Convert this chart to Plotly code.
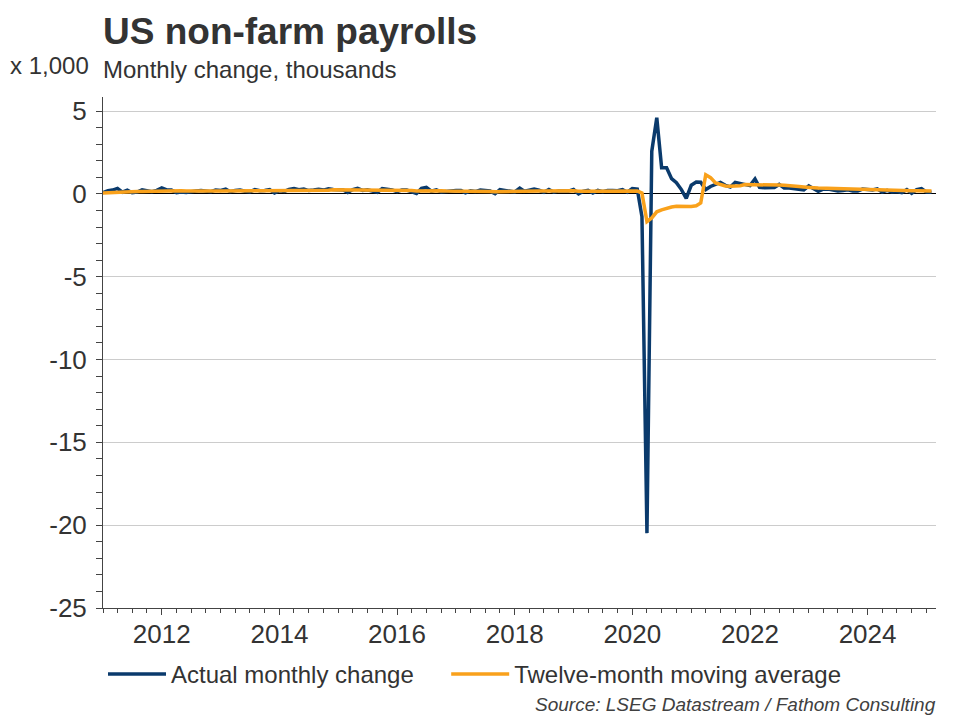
import plotly.graph_objects as go

# Monthly change in non-farm payrolls (x 1,000 of thousands, i.e. millions), Jan 2011 - Feb 2025
start_year = 2011
actual = [
    # 2011
    0.07, 0.19, 0.23, 0.33, 0.10, 0.22, 0.07, 0.11, 0.25, 0.20, 0.13, 0.21,
    # 2012
    0.36, 0.24, 0.23, 0.08, 0.12, 0.08, 0.14, 0.18, 0.20, 0.15, 0.13, 0.24,
    # 2013
    0.21, 0.29, 0.13, 0.20, 0.23, 0.16, 0.12, 0.26, 0.19, 0.21, 0.26, 0.05,
    # 2014
    0.19, 0.15, 0.27, 0.33, 0.25, 0.30, 0.20, 0.23, 0.28, 0.23, 0.31, 0.26,
    # 2015
    0.23, 0.24, 0.09, 0.26, 0.34, 0.21, 0.25, 0.16, 0.10, 0.32, 0.27, 0.24,
    # 2016
    0.13, 0.24, 0.23, 0.14, 0.02, 0.33, 0.39, 0.16, 0.25, 0.12, 0.16, 0.16,
    # 2017
    0.21, 0.20, 0.06, 0.18, 0.14, 0.23, 0.18, 0.17, 0.01, 0.26, 0.21, 0.17,
    # 2018
    0.12, 0.35, 0.16, 0.23, 0.29, 0.22, 0.10, 0.27, 0.10, 0.18, 0.19, 0.17,
    # 2019
    0.27, 0.00, 0.15, 0.22, 0.06, 0.21, 0.13, 0.21, 0.21, 0.19, 0.26, 0.10,
    # 2020
    0.32, 0.29, -1.37, -20.48, 2.58, 4.60, 1.58, 1.58, 0.92, 0.68, 0.26, -0.27,
    # 2021
    0.52, 0.71, 0.70, 0.26, 0.45, 0.56, 0.69, 0.52, 0.42, 0.70, 0.65, 0.60,
    # 2022
    0.50, 0.90, 0.40, 0.37, 0.39, 0.38, 0.57, 0.35, 0.35, 0.32, 0.29, 0.24,
    # 2023
    0.48, 0.29, 0.15, 0.28, 0.30, 0.24, 0.18, 0.21, 0.25, 0.17, 0.18, 0.29,
    # 2024
    0.26, 0.24, 0.31, 0.11, 0.22, 0.12, 0.14, 0.08, 0.26, 0.04, 0.26, 0.32,
    # 2025
    0.11, 0.10,
]

moving_avg = [
    # 2011
    0.05, 0.07, 0.09, 0.11, 0.12, 0.13, 0.13, 0.14, 0.15, 0.16, 0.17, 0.17,
    # 2012
    0.19, 0.19, 0.20, 0.18, 0.19, 0.17, 0.18, 0.18, 0.18, 0.17, 0.17, 0.18,
    # 2013
    0.17, 0.18, 0.17, 0.18, 0.19, 0.19, 0.19, 0.19, 0.19, 0.19, 0.20, 0.18,
    # 2014
    0.18, 0.17, 0.18, 0.19, 0.19, 0.20, 0.21, 0.21, 0.22, 0.22, 0.22, 0.25,
    # 2015
    0.25, 0.26, 0.24, 0.23, 0.24, 0.24, 0.24, 0.24, 0.22, 0.23, 0.22, 0.22,
    # 2016
    0.21, 0.21, 0.22, 0.21, 0.18, 0.19, 0.20, 0.20, 0.21, 0.19, 0.18, 0.18,
    # 2017
    0.19, 0.18, 0.17, 0.17, 0.18, 0.17, 0.15, 0.15, 0.13, 0.14, 0.15, 0.15,
    # 2018
    0.14, 0.16, 0.17, 0.17, 0.18, 0.18, 0.17, 0.18, 0.19, 0.18, 0.18, 0.18,
    # 2019
    0.19, 0.16, 0.16, 0.16, 0.14, 0.14, 0.14, 0.14, 0.15, 0.15, 0.16, 0.16,
    # 2020
    0.16, 0.18, 0.05, -1.67, -1.45, -1.08, -0.96, -0.85, -0.79, -0.75, -0.75, -0.78,
    # 2021
    -0.76, -0.72, -0.55, 1.15, 0.98, 0.66, 0.57, 0.48, 0.46, 0.46, 0.49, 0.56,
    # 2022
    0.56, 0.58, 0.55, 0.56, 0.56, 0.54, 0.53, 0.52, 0.51, 0.48, 0.45, 0.42,
    # 2023
    0.42, 0.37, 0.35, 0.34, 0.33, 0.32, 0.29, 0.28, 0.27, 0.26, 0.25, 0.25,
    # 2024
    0.23, 0.23, 0.24, 0.23, 0.22, 0.21, 0.21, 0.20, 0.20, 0.19, 0.19, 0.19,
    # 2025
    0.18, 0.17,
]

dates = [f"{start_year + i // 12}-{i % 12 + 1:02d}-01" for i in range(len(actual))]

y_ticks = [5, 0, -5, -10, -15, -20, -25]
x_tick_years = ["2012", "2014", "2016", "2018", "2020", "2022", "2024"]

FONT = "Liberation Sans, Arial, sans-serif"
TXT = "#333333"
BLUE = "#0a3a6c"
ORANGE = "#f9a11b"

fig = go.Figure()
fig.add_trace(go.Scatter(
    x=dates, y=actual, mode="lines", name="Actual monthly change",
    line=dict(color=BLUE, width=3.5), legend="legend",
))
fig.add_trace(go.Scatter(
    x=dates, y=moving_avg, mode="lines", name="Twelve-month moving average",
    line=dict(color=ORANGE, width=3.5), legend="legend2",
))

legend_common = dict(
    orientation="h", xanchor="left", y=-0.13, yanchor="middle",
    font=dict(size=24, color=TXT), itemwidth=58,
    bgcolor="rgba(0,0,0,0)",
)

fig.update_layout(
    width=952, height=712,
    margin=dict(l=95, r=24, t=89, b=112),
    paper_bgcolor="white", plot_bgcolor="white",
    font=dict(family=FONT, color=TXT, size=24),
    showlegend=True,
    legend=dict(x=0.0, **legend_common),
    legend2=dict(x=0.412, **legend_common),
    xaxis=dict(
        type="date",
        range=["2011-01-01", "2025-03-01"],
        tickmode="array",
        tickvals=[f"{y}-01-01" for y in x_tick_years],
        ticktext=x_tick_years,
        ticks="outside", ticklen=6, tickcolor="#444444", tickwidth=1,
        ticklabelstandoff=-3,
        showline=True, linecolor="#444444", linewidth=1,
        showgrid=False, zeroline=False,
        tickfont=dict(size=26, color=TXT),
        minor=dict(dtick="M3", tick0="2011-01-01", ticks="outside", ticklen=4,
                   tickcolor="#444444", showgrid=False),
    ),
    yaxis=dict(
        range=[-25, 5.85],
        tickmode="array",
        tickvals=y_ticks,
        ticktext=[str(v) for v in y_ticks],
        ticks="outside", ticklen=6, tickcolor="#444444", tickwidth=1,
        ticklabelstandoff=4,
        showline=True, linecolor="#444444", linewidth=1,
        showgrid=True, gridcolor="#cccccc", gridwidth=1,
        zeroline=True, zerolinecolor="#000000", zerolinewidth=1,
        tickfont=dict(size=26, color=TXT),
        minor=dict(dtick=1, tick0=0, ticks="outside", ticklen=6,
                   tickcolor="#444444", showgrid=False),
    ),
    annotations=[
        dict(text="<b>US non-farm payrolls</b>", xref="paper", yref="paper",
             x=-0.002, y=1.172, xanchor="left", yanchor="top", showarrow=False,
             font=dict(size=37, color=TXT, family=FONT)),
        dict(text="Monthly change, thousands", xref="paper", yref="paper",
             x=-0.002, y=1.053, xanchor="left", yanchor="middle", showarrow=False,
             font=dict(size=24, color=TXT, family=FONT)),
        dict(text="x 1,000", xref="paper", yref="paper",
             x=-0.1135, y=1.062, xanchor="left", yanchor="middle", showarrow=False,
             font=dict(size=24, color=TXT, family=FONT)),
        dict(text="<i>Source: LSEG Datastream / Fathom Consulting</i>", xref="paper", yref="paper",
             x=1.003, y=-0.188, xanchor="right", yanchor="middle", showarrow=False,
             font=dict(size=19, color="#404040", family=FONT)),
    ],
)

fig.write_html("out.html")
